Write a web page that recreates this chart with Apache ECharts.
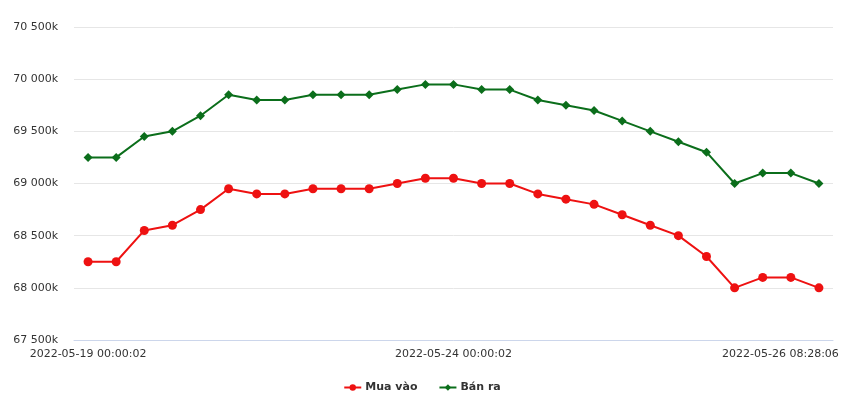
<!DOCTYPE html>
<html>
<head>
<meta charset="utf-8">
<script src="https://cdn.jsdelivr.net/npm/echarts@6/dist/echarts.min.js"></script>
<style>
html,body{margin:0;padding:0;background:#fff;}
#chart{width:844px;height:410px;}
</style>
</head>
<body>
<div id="chart"></div>
<script>
var categories = [
  "2022-05-19 00:00:02","2022-05-19 08:30:05","2022-05-19 14:15:03",
  "2022-05-20 00:00:02","2022-05-20 08:32:10","2022-05-20 14:20:04",
  "2022-05-21 00:00:02","2022-05-21 09:00:05","2022-05-22 00:00:02",
  "2022-05-22 09:00:04","2022-05-23 00:00:02","2022-05-23 08:30:07",
  "2022-05-23 14:10:05","2022-05-24 00:00:02","2022-05-24 08:29:03",
  "2022-05-24 10:15:06","2022-05-24 14:05:02","2022-05-25 00:00:02",
  "2022-05-25 08:31:04","2022-05-25 09:45:03","2022-05-25 11:20:05",
  "2022-05-25 14:00:04","2022-05-25 16:30:02","2022-05-26 00:00:02",
  "2022-05-26 08:05:03","2022-05-26 08:15:04","2022-05-26 08:28:06"
];
// values in thousands (k)
var muaVao = [68250,68250,68550,68600,68750,68950,68900,68900,68950,68950,68950,69000,69050,69050,69000,69000,68900,68850,68800,68700,68600,68500,68300,68000,68100,68100,68000];
var banRa  = [69250,69250,69450,69500,69650,69850,69800,69800,69850,69850,69850,69900,69950,69950,69900,69900,69800,69750,69700,69600,69500,69400,69300,69000,69100,69100,69000];
var seriesNames = ["Mua vào","Bán ra"];
var yMin = 67500, yMax = 70500, yStep = 500;

function fmt(v){
  return String(v).replace(/\B(?=(\d{3})+(?!\d))/g, " ") + "k";
}
var lastIdx = categories.length - 1;

var chart = echarts.init(document.getElementById('chart'), null, {renderer:'canvas'});
chart.setOption({
  animation:false,
  textStyle:{fontFamily:'DejaVu Sans'},
  grid:{left:74,right:11,top:27,bottom:70,containLabel:false,outerBoundsMode:'none'},
  legend:{
    bottom:12,left:'center',itemGap:21,itemWidth:17,itemHeight:8,
    textStyle:{fontFamily:'DejaVu Sans',fontSize:11,fontWeight:'bold',color:'#333',padding:[0,0,0,-1]},
    data:seriesNames
  },
  xAxis:{
    type:'category',boundaryGap:true,data:categories,
    axisLine:{lineStyle:{color:'#ccd6eb'}},
    axisTick:{show:false},
    axisLabel:{interval:12,color:'#333',fontSize:11,margin:9,fontFamily:'DejaVu Sans',hideOverlap:false,
      formatter:function(v, i){ return i === lastIdx ? '{last|' + v + '}' : v; },
      rich:{last:{padding:[0,77,0,0],color:'#333',fontSize:11,fontFamily:'DejaVu Sans'}}
    }
  },
  yAxis:{
    type:'value',min:yMin,max:yMax,interval:yStep,
    axisLine:{show:false},axisTick:{show:false},
    splitLine:{lineStyle:{color:'#e6e6e6'}},
    axisLabel:{formatter:fmt,color:'#333',fontSize:11,margin:16,fontFamily:'DejaVu Sans'}
  },
  series:[
    {name:seriesNames[0],type:'line',data:muaVao,symbol:'circle',symbolSize:9,
     lineStyle:{width:2,color:'#ee1111'},itemStyle:{color:'#ee1111'}},
    {name:seriesNames[1],type:'line',data:banRa,symbol:'diamond',symbolSize:9,
     lineStyle:{width:2,color:'#0b6e1b'},itemStyle:{color:'#0b6e1b'}}
  ]
});
</script>
</body>
</html>
